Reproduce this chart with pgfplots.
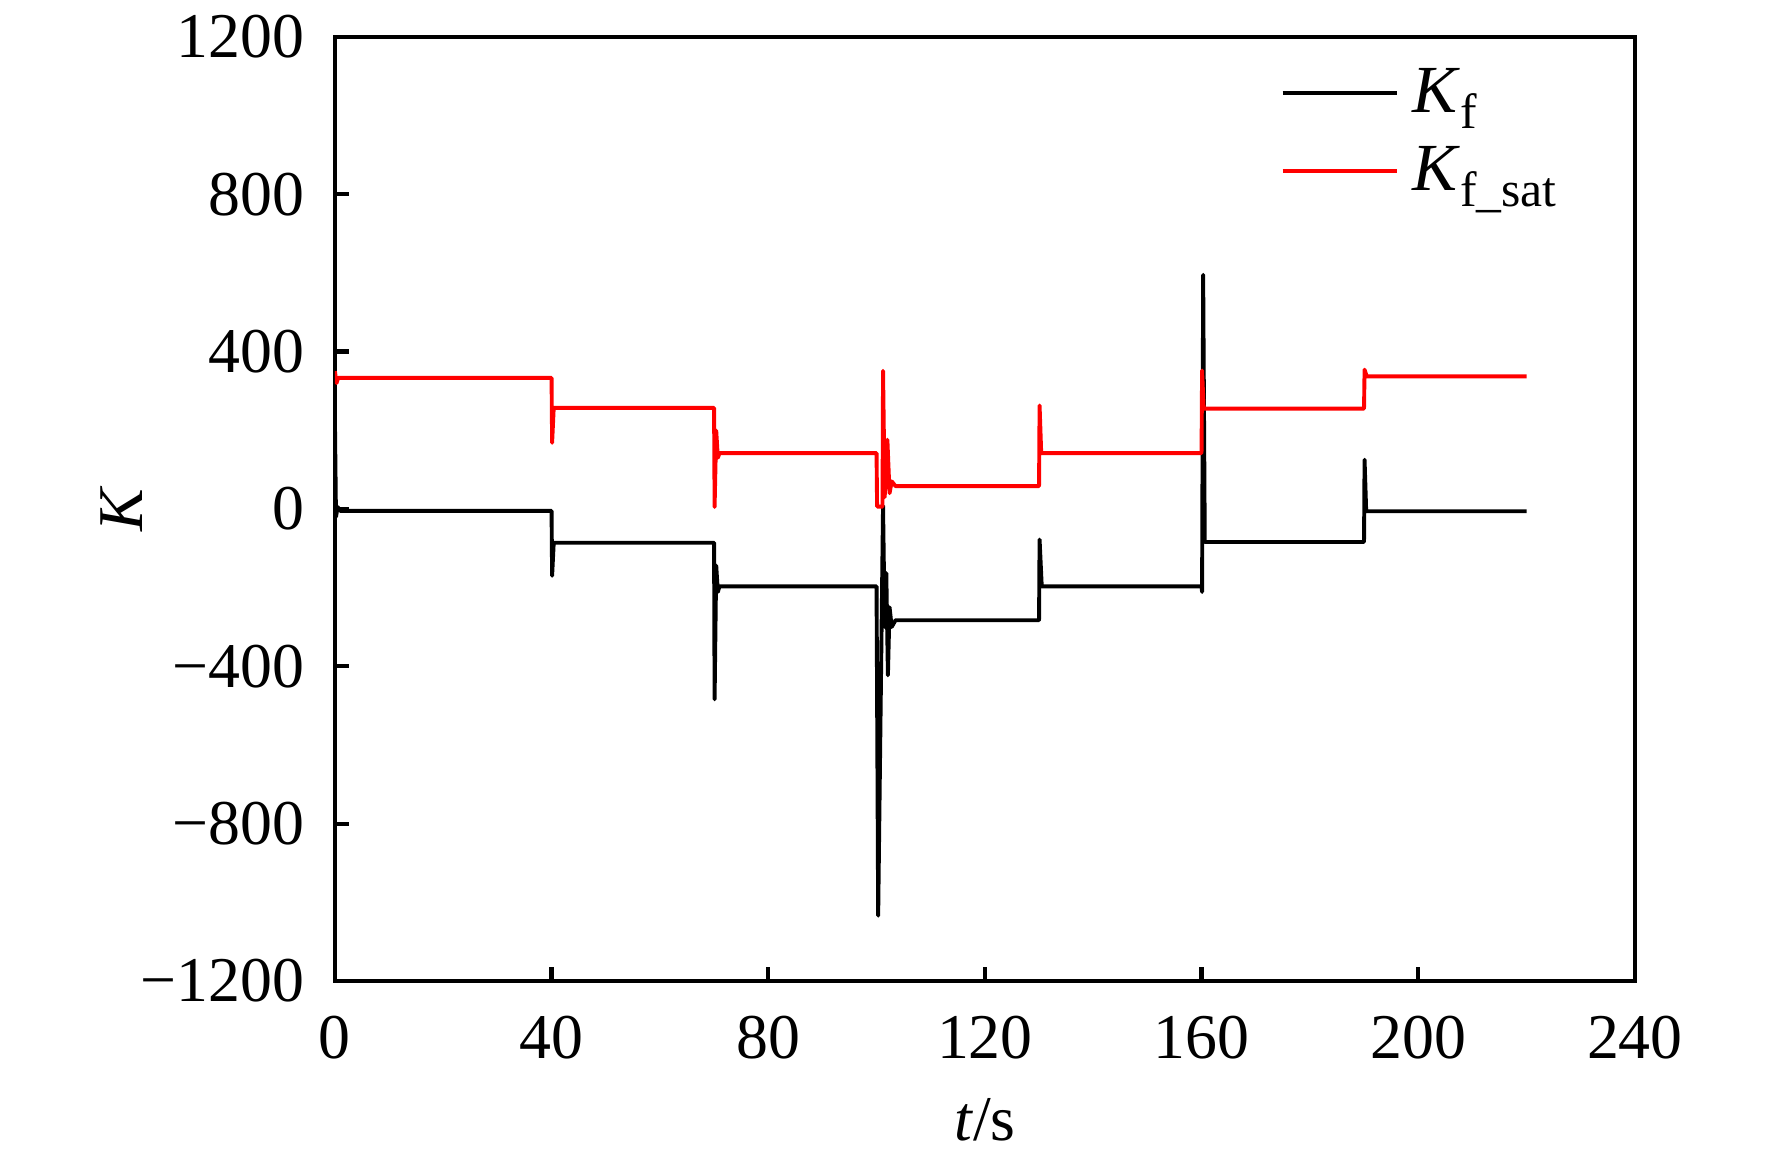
\documentclass[border=0pt]{standalone}
\usepackage{fontspec}
\setmainfont{Liberation Serif}
\usepackage{pgfplots}
\pgfplotsset{compat=1.18}
\begin{document}
\begin{tikzpicture}
\useasboundingbox (-94.5pt,-49.7pt) rectangle (405.5pt,276.8pt);
\begin{axis}[
  at={(0,0)}, anchor=south west,
  width=366.8pt, height=266.4pt, scale only axis,
  xmin=0, xmax=240, ymin=-1200, ymax=1200,
  xtick={0,40,80,120,160,200,240},
  xticklabels={0,40,80,120,160,200,240},
  ytick={-1200,-800,-400,0,400,800,1200},
  yticklabels={−1200,−800,−400,0,400,800,1200},
  tick align=inside, xtick pos=bottom, ytick pos=left,
  major tick length=4pt,
  axis line style={line width=1.2pt},
  every tick/.style={black, line width=1.2pt},
  tick label style={font=\fontsize{18}{18}\selectfont},
  xticklabel style={anchor=base, inner sep=0pt, yshift=-22pt},
  yticklabel style={anchor=east, inner sep=0pt, xshift=-8.5pt},
  xlabel={\textit{t}/s}, ylabel={\textit{K}},
  label style={font=\fontsize{18}{18}\selectfont},
  xlabel style={at={(axis description cs:0.5,-0.1685)}, anchor=base},
  ylabel style={at={(axis description cs:-0.1483,0.5)}, anchor=base},
  legend style={at={(axis description cs:0.727,0.967)}, anchor=north west,
    draw=none, fill=none, inner sep=0pt, row sep=8pt, column sep=0pt,
    font=\fontsize{19}{19}\selectfont,
    nodes={inner sep=0pt, anchor=west}},
  legend cell align=left,
  legend image code/.code={\draw[#1] (0pt,0pt) -- (32.4pt,0pt);},
  every axis plot/.append style={line width=1.1pt, line join=round},
]
\addplot[black] coordinates {
(0,230) (0.2,-20) (0.5,5) (1,-5) (40,-5) (40.1,-170) (40.4,-86) (70,-86)
(70.1,-484) (70.4,-144) (70.7,-211) (71,-197) (100,-197) (100.3,-1034)
(101.2,8) (101.5,-300) (101.8,-163) (102.1,-423) (102.4,-250) (102.8,-300) (103.5,-283)
(130,-283) (130.1,-78) (130.5,-197) (160,-197) (160.1,-211) (160.3,595) (160.6,-84)
(190,-84) (190.1,125) (190.4,-6) (220,-6)
};
\addlegendentry{\hspace{3.7pt}\textit{K}\raisebox{-4.5pt}{\fontsize{14}{14}\selectfont f}}
\addplot[red] coordinates {
(0,350) (0.3,320) (0.6,333) (40,333) (40.1,168) (40.4,257) (70,257)
(70.1,5) (70.4,199) (70.7,130) (71,142) (100,142) (100.1,6) (101.1,6)
(101.2,351) (101.5,30) (102,176) (102.4,40) (102.8,70) (103.5,58)
(130,58) (130.1,263) (130.4,142) (160,142) (160.1,352) (160.4,255)
(190,255) (190.1,354) (190.5,337) (220,337)
};
\addlegendentry{\hspace{3.7pt}\textit{K}\raisebox{-4.5pt}{\fontsize{14}{14}\selectfont f\_sat}}
\end{axis}
\end{tikzpicture}
\end{document}
